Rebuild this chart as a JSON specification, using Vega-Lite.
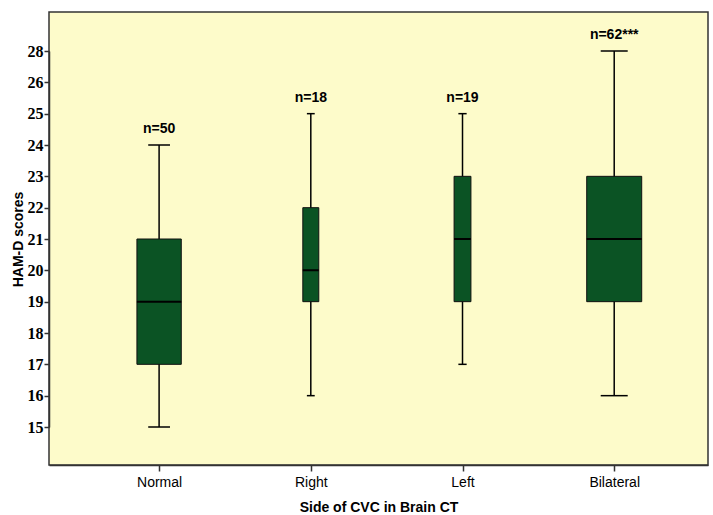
{
  "$schema": "https://vega.github.io/schema/vega-lite/v6.json",
  "width": 659,
  "height": 453,
  "autosize": {"type": "none"},
  "padding": {"left": 49, "top": 12, "right": 5, "bottom": 50},
  "background": "#ffffff",
  "config": {
    "view": {"fill": "#fdfbca", "stroke": "#333333", "strokeWidth": 1.5},
    "axis": {"domainColor": "#333333", "tickColor": "#333333", "domainWidth": 1.5, "tickWidth": 1.5, "grid": false}
  },
  "data": {
    "values": [
      {"side": "Normal", "min": 15, "q1": 17, "median": 19, "q3": 21, "max": 24, "n": 50, "label": "n=50"},
      {"side": "Right", "min": 16, "q1": 19, "median": 20, "q3": 22, "max": 25, "n": 18, "label": "n=18"},
      {"side": "Left", "min": 17, "q1": 19, "median": 21, "q3": 23, "max": 25, "n": 19, "label": "n=19"},
      {"side": "Bilateral", "min": 16, "q1": 19, "median": 21, "q3": 23, "max": 28, "n": 62, "label": "n=62***"}
    ]
  },
  "encoding": {
    "x": {
      "field": "side",
      "type": "nominal",
      "sort": ["Normal", "Right", "Left", "Bilateral"],
      "scale": {"type": "point", "padding": 0.672, "align": 0.54},
      "axis": {
        "title": "Side of CVC in Brain CT",
        "labelAngle": 0,
        "labelFont": "Liberation Sans",
        "labelFontSize": 14,
        "labelColor": "#000000",
        "labelPadding": 4,
        "tickSize": 6,
        "titleFont": "Liberation Sans",
        "titleFontSize": 14,
        "titleFontWeight": "bold",
        "titleColor": "#000000",
        "titlePadding": 11
      }
    }
  },
  "layer": [
    {
      "mark": {"type": "rule", "color": "#000000", "strokeWidth": 1.5},
      "encoding": {
        "y": {
          "field": "min",
          "type": "ordinal",
          "scale": {"type": "point", "domain": [28, 26, 25, 24, 23, 22, 21, 20, 19, 18, 17, 16, 15], "range": [39, 415], "padding": 0},
          "axis": {
            "title": "HAM-D scores",
            "labelFont": "Liberation Serif",
            "labelFontSize": 16,
            "labelFontWeight": "bold",
            "labelColor": "#000000",
            "labelPadding": 1,
            "tickSize": 5,
            "titleFont": "Liberation Sans",
            "titleFontSize": 14,
            "titleFontWeight": "bold",
            "titleColor": "#000000",
            "titlePadding": 2
          }
        },
        "y2": {"field": "max"}
      }
    },
    {
      "mark": {"type": "bar", "color": "#0b5324", "stroke": "#111111", "strokeWidth": 1},
      "encoding": {
        "y": {"field": "q3", "type": "ordinal"},
        "y2": {"field": "q1"},
        "size": {"field": "n", "type": "quantitative", "scale": {"domain": [0, 62], "range": [0, 55]}, "legend": null}
      }
    },
    {
      "mark": {"type": "tick", "orient": "horizontal", "color": "#000000", "thickness": 2, "opacity": 1},
      "encoding": {
        "y": {"field": "median", "type": "ordinal"},
        "size": {"field": "n", "type": "quantitative", "scale": {"domain": [0, 62], "range": [0, 55]}, "legend": null}
      }
    },
    {
      "mark": {"type": "tick", "orient": "horizontal", "color": "#000000", "thickness": 1.5, "opacity": 1},
      "encoding": {
        "y": {"field": "max", "type": "ordinal"},
        "size": {"field": "n", "type": "quantitative", "scale": {"domain": [0, 62], "range": [0, 27]}, "legend": null}
      }
    },
    {
      "mark": {"type": "tick", "orient": "horizontal", "color": "#000000", "thickness": 1.5, "opacity": 1},
      "encoding": {
        "y": {"field": "min", "type": "ordinal"},
        "size": {"field": "n", "type": "quantitative", "scale": {"domain": [0, 62], "range": [0, 27]}, "legend": null}
      }
    },
    {
      "mark": {"type": "text", "font": "Liberation Sans", "fontSize": 14, "fontWeight": "bold", "color": "#000000", "baseline": "alphabetic", "dy": -12},
      "encoding": {
        "y": {"field": "max", "type": "ordinal"},
        "text": {"field": "label"}
      }
    }
  ],
  "resolve": {"scale": {"size": "independent"}}
}
